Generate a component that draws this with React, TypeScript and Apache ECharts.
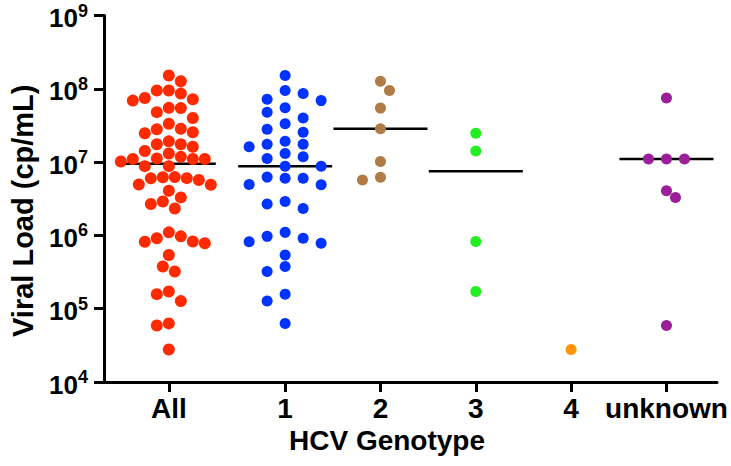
import React, { useEffect, useRef } from 'react';
import * as echarts from 'echarts';

const categories = ['All', '1', '2', '3', '4', 'unknown'];

const genotype1 = [
  1.52e8, 9.5e7, 8.6e7, 7.2e7, 6.9e7, 5.5e7, 4.8e7, 4.0e7, 3.33e7, 2.8e7,
  2.55e7, 1.92e7, 1.75e7, 1.75e7, 1.62e7, 1.31e7, 1.18e7, 1.12e7, 8.8e6, 8.8e6,
  6.24e6, 6.04e6, 6.0e6, 4.94e6, 4.9e6, 2.9e6, 2.68e6, 2.33e6, 1.1e6, 9.7e5,
  9.15e5, 8.2e5, 7.8e5, 5.4e5, 3.77e5, 3.22e5, 1.58e5, 1.27e5, 6.3e4,
];
const genotype2 = [1.27e8, 9.5e7, 5.45e7, 2.85e7, 1.02e7, 6.2e6, 5.7e6];
const genotype3 = [2.47e7, 1.42e7, 8.25e5, 1.72e5];
const genotype4 = [2.78e4];
const unknownGenotype = [7.5e7, 1.1e7, 1.1e7, 1.1e7, 4.06e6, 3.3e6, 5.9e4];
const allPatients = [
  ...genotype1,
  ...genotype2,
  ...genotype3,
  ...genotype4,
  ...unknownGenotype,
];

const groups = [allPatients, genotype1, genotype2, genotype3, genotype4, unknownGenotype];
const yTicks = [1e4, 1e5, 1e6, 1e7, 1e8, 1e9];

// layout / style (not data)
const catPos = [1, 2.22, 3.22, 4.22, 5.22, 6.22];
const colors = ['#FF2A00', '#0033FF', '#B07B45', '#22EE22', '#FF9500', '#9C1F9A'];
const dotSize = [12, 11, 11, 11, 11, 11];
const laneStep = [6, 18, 9, 9, 9, 9];
const FONT = '"Liberation Sans", Arial, sans-serif';

function median(arr: number[]): number {
  const s = [...arr].sort((a, b) => a - b);
  const n = s.length;
  return n % 2 ? s[(n - 1) / 2] : (s[n / 2 - 1] + s[n / 2]) / 2;
}

function swarm(pys: number[], step: number, d: number): number[] {
  const order = pys.map((_, i) => i).sort((a, b) => pys[a] - pys[b]);
  const placed: { x: number; y: number }[] = [];
  const res = new Array(pys.length).fill(0);
  let balance = 0;
  for (const i of order) {
    const y = pys[i];
    for (let k = 0; k < 200; k++) {
      const cands = k === 0 ? [0] : balance > 0 ? [-k * step, k * step] : [k * step, -k * step];
      let found: number | null = null;
      for (const x of cands) {
        if (placed.every((p) => Math.hypot(p.x - x, p.y - y) >= d - 0.01)) {
          found = x;
          break;
        }
      }
      if (found !== null) {
        res[i] = found;
        placed.push({ x: found, y });
        balance += found;
        break;
      }
    }
  }
  return res;
}

export default function App() {
  const ref = useRef<HTMLDivElement>(null);
  useEffect(() => {
    document.body.style.margin = '0';
    if (!ref.current) return;
    const chart = echarts.init(ref.current, null, { renderer: 'svg' });
    const base: any = {
      animation: false,
      grid: { left: 98, right: 14, top: 14, bottom: 84 },
      xAxis: {
        type: 'value',
        min: 0.32,
        max: 6.75,
        splitLine: { show: false },
        axisLine: { onZero: false, lineStyle: { color: '#000', width: 3 } },
        axisTick: { customValues: catPos, length: 10, lineStyle: { color: '#000', width: 3 } },
        axisLabel: {
          customValues: catPos,
          formatter: (v: number) => {
            const i = catPos.findIndex((p) => Math.abs(p - v) < 1e-6);
            return i >= 0 ? categories[i] : '';
          },
          fontSize: 28,
          fontWeight: 'bold',
          fontFamily: FONT,
          color: '#000',
          margin: 12,
        },
        name: 'HCV Genotype',
        nameLocation: 'middle',
        nameGap: 43,
        nameTextStyle: { fontSize: 28, fontWeight: 'bold', fontFamily: FONT, color: '#000', padding: [0, 47, 0, 0] },
      },
      yAxis: {
        type: 'log',
        logBase: 10,
        min: yTicks[0],
        max: yTicks[yTicks.length - 1],
        splitLine: { show: false },
        axisLine: { show: true, lineStyle: { color: '#000', width: 3 } },
        axisTick: { show: true, length: 10, lineStyle: { color: '#000', width: 3 } },
        minorTick: { show: false },
        axisLabel: {
          margin: 16,
          formatter: (v: number) => `{b|10}{s|${Math.round(Math.log10(v))}}`,
          rich: {
            b: { fontSize: 26, fontWeight: 'bold', fontFamily: FONT, color: '#000', lineHeight: 28, padding: [5, 0, 0, 0] },
            s: { fontSize: 18, fontWeight: 'bold', fontFamily: FONT, color: '#000', verticalAlign: 'top', lineHeight: 20 },
          },
        },
        name: 'Viral Load (cp/mL)',
        nameLocation: 'middle',
        nameGap: 67,
        nameTextStyle: { fontSize: 29, fontWeight: 'bold', fontFamily: FONT, color: '#000', padding: [0, 24, 0, 0] },
      },
      series: [],
    };
    chart.setOption(base);

    const x0 = chart.convertToPixel({ xAxisIndex: 0 }, 0) as number;
    const x1 = chart.convertToPixel({ xAxisIndex: 0 }, 1) as number;
    const unit = x1 - x0;
    const halfW = 47 / unit;

    const series: any[] = [];
    const medData: number[][] = [];
    groups.forEach((vals, gi) => {
      const pys = vals.map((v) => chart.convertToPixel({ yAxisIndex: 0 }, v) as number);
      const offs = swarm(pys, laneStep[gi], dotSize[gi]);
      series.push({
        type: 'scatter',
        name: categories[gi],
        symbol: 'circle',
        symbolSize: dotSize[gi],
        itemStyle: { color: colors[gi], opacity: 1 },
        z: 3,
        data: vals.map((v, i) => [catPos[gi] + offs[i] / unit, v]),
      });
      if (vals.length > 1) medData.push([catPos[gi], median(vals)]);
    });
    series.unshift({
      type: 'custom',
      z: 2,
      data: medData,
      renderItem: (_p: any, api: any) => {
        const x = api.value(0);
        const y = api.value(1);
        const a = api.coord([x - halfW, y]);
        const b = api.coord([x + halfW, y]);
        return {
          type: 'line',
          shape: { x1: a[0], y1: a[1], x2: b[0], y2: b[1] },
          style: { stroke: '#000', lineWidth: 2.5 },
        };
      },
    });
    chart.setOption({ series });
    return () => chart.dispose();
  }, []);
  return <div ref={ref} style={{ width: 731, height: 466 }} />;
}
